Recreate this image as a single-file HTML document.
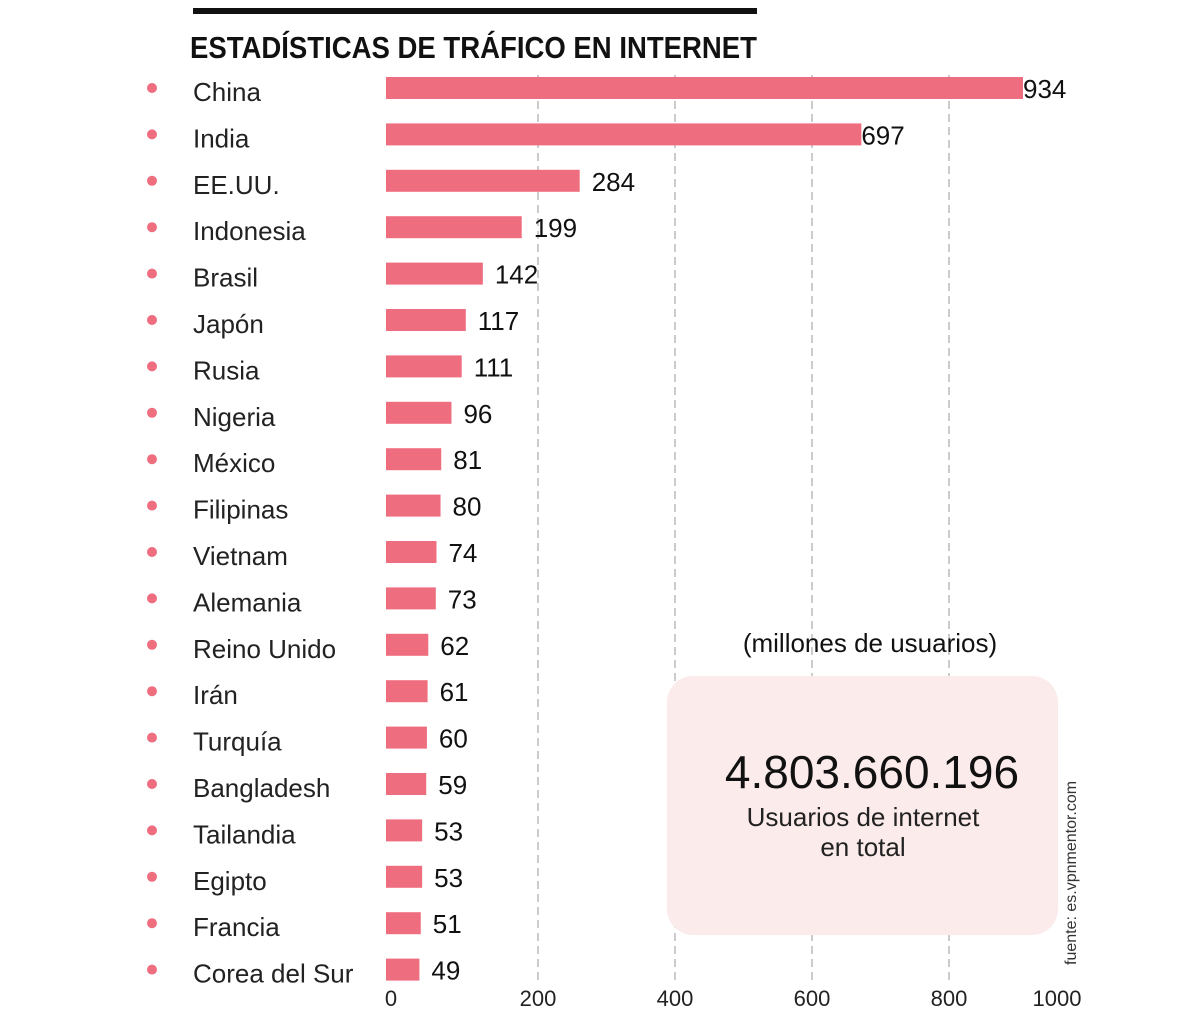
<!DOCTYPE html>
<html><head><meta charset="utf-8"><style>
body{margin:0;background:#fff;}
svg{display:block;font-family:"Liberation Sans",sans-serif;}
</style></head><body>
<svg width="1200" height="1013" viewBox="0 0 1200 1013">
<rect x="193" y="8" width="564" height="6" fill="#111"/>
<text x="190" y="58" font-weight="bold" font-size="31" fill="#111" textLength="567" lengthAdjust="spacingAndGlyphs">ESTADÍSTICAS DE TRÁFICO EN INTERNET</text>
<g id="grid"></g>
<g id="bars"></g>
<g id="ticks"></g>
<text x="870" y="652" text-anchor="middle" font-size="26" fill="#111">(millones de usuarios)</text>
<rect x="667" y="676" width="391" height="259" rx="26" fill="#fcebeb"/>
<text x="872" y="788" text-anchor="middle" font-size="46" fill="#111">4.803.660.196</text>
<text x="863" y="826" text-anchor="middle" font-size="26" fill="#222">Usuarios de internet</text>
<text x="863" y="856" text-anchor="middle" font-size="26" fill="#222">en total</text>
<text transform="translate(1076,965) rotate(-90)" font-size="16" fill="#333">fuente: es.vpnmentor.com</text>
</svg>
<script>
const countries=["China","India","EE.UU.","Indonesia","Brasil","Japón","Rusia","Nigeria","México","Filipinas","Vietnam","Alemania","Reino Unido","Irán","Turquía","Bangladesh","Tailandia","Egipto","Francia","Corea del Sur"];
const values=[934,697,284,199,142,117,111,96,81,80,74,73,62,61,60,59,53,53,51,49];
const ticks=[0,200,400,600,800,1000];
const NS="http://www.w3.org/2000/svg";
const x0=386,k=0.682;
const xs=v=>x0+v*k;
const gridX=v=>x0+15+v*0.685;
const tickX=v=>v===0?x0+5:Math.min(1057,gridX(v));
const yc=i=>88+i*46.4;
function mk(t,a,p){const e=document.createElementNS(NS,t);for(const q in a)e.setAttribute(q,a[q]);p.appendChild(e);return e;}
const G=document.getElementById('grid'),B=document.getElementById('bars'),T=document.getElementById('ticks');
ticks.forEach(v=>{
 if(v>0&&v<1000){const l=mk('line',{x1:gridX(v),x2:gridX(v),y1:75,y2:985,stroke:'#999','stroke-dasharray':'8,5','stroke-width':1},G);
 
 }
 const t=mk('text',{x:tickX(v),y:1006,'text-anchor':'middle','font-size':22,fill:'#222'},T);t.textContent=v;
 
 
});
countries.forEach((c,i)=>{
 const y=yc(i);
 const d=mk('circle',{cx:152,cy:y,r:5,fill:'#ee6e80'},B);
 
 
 const l=mk('text',{x:193,y:y+13,'font-size':26,fill:'#222'},B);l.textContent=c;
 
 
 const r=mk('rect',{x:x0,y:y-11,width:xs(values[i])-x0,height:22,fill:'#ee6e80'},B);
 
 
 const v=mk('text',{x:xs(values[i])+(values[i]>500?0:12),y:y+10,'font-size':26,fill:'#111'},B);v.textContent=values[i];
 
 
});
</script>
</body></html>
